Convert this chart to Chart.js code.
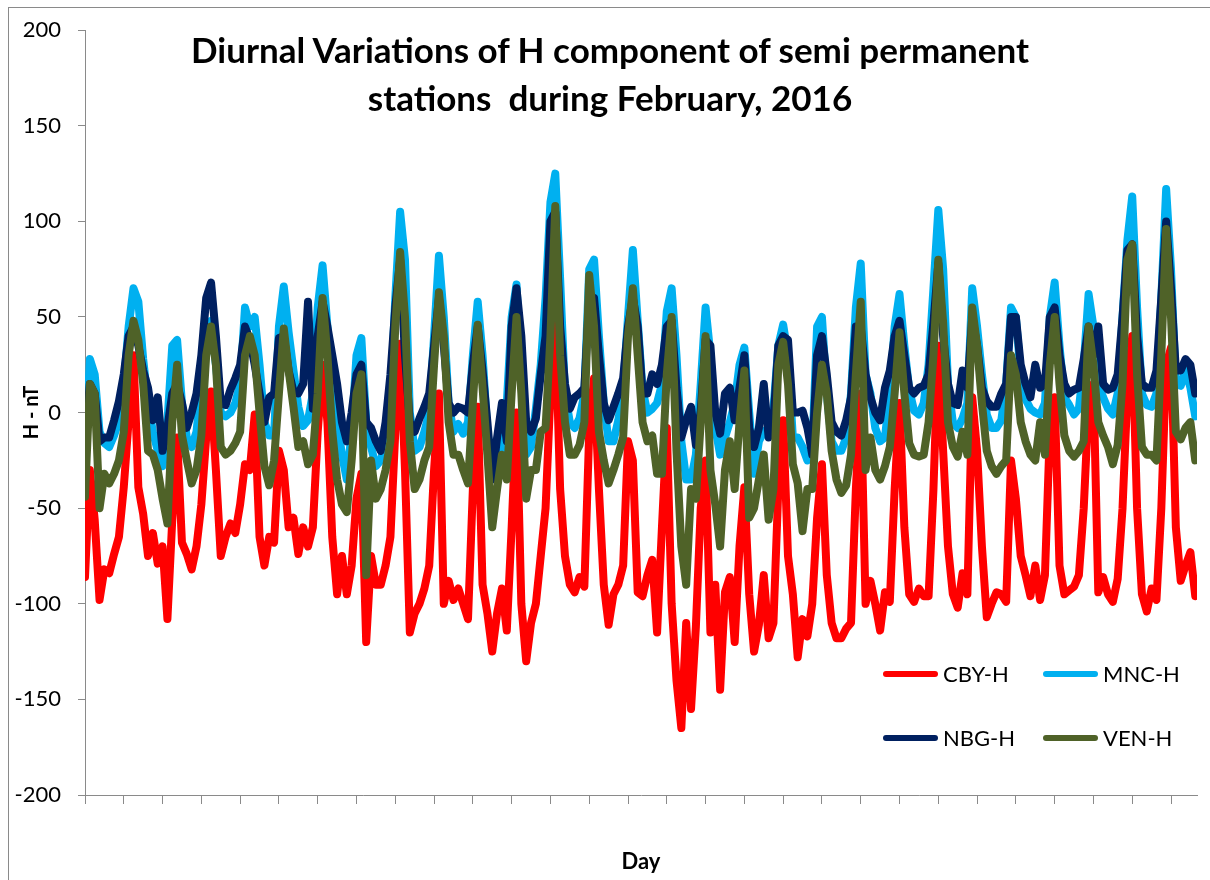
<!DOCTYPE html>
<html>
<head>
<meta charset="utf-8">
<title>Diurnal Variations of H component - February 2016</title>
<script src="https://cdn.jsdelivr.net/npm/chart.js@4.4.1/dist/chart.umd.min.js"></script>
<style>
  html, body { margin: 0; padding: 0; background: #fff; }
  #wrap { position: relative; width: 1210px; height: 880px; overflow: hidden; font-family: Lato, "Open Sans", sans-serif; color: #000; }
  #chart { position: absolute; left: 0; top: 0; }
  #frame { position: absolute; left: 8px; top: 7px; width: 1400px; height: 1000px; border-left: 1px solid #8a8a8a; border-top: 1px solid #8a8a8a; }
  #title { position: absolute; left: 0; top: 25px; width: 1220px; text-align: center; font-weight: bold; font-size: 35px; line-height: 48px; }
  .swatch { position: absolute; height: 6px; border-radius: 3px; }
  .legtext { position: absolute; font-size: 22px; line-height: 26px; }
</style>
</head>
<body>
<div id="wrap">
  <div id="frame"></div>
  <canvas id="chart" width="1210" height="880"></canvas>
  <div id="title">Diurnal Variations of H component of semi permanent<br>stations&nbsp; during February, 2016</div>
  <div id="legend"></div>
</div>
<script>
// readings taken every 3 hours (8 per day), values in nT
const SAMPLES_PER_DAY = 8;
const seriesNames = ["CBY-H", "MNC-H", "NBG-H", "VEN-H"];
const yTicks = [-200, -150, -100, -50, 0, 50, 100, 150, 200];

const cbyH = [
  -86, -30, -56, -98, -82, -84, -74, -65,
  -39, -4, 30, -39, -53, -75, -63, -79,
  -70, -108, -56, -13, -68, -74, -82, -70,
  -48, -13, 11, -30, -75, -65, -58, -63,
  -48, -27, -30, -1, -65, -80, -65, -68,
  -20, -30, -60, -55, -74, -60, -70, -60,
  -10, 25, -5, -65, -95, -75, -95, -80,
  -45, -32, -120, -75, -90, -90, -80, -65,
  -10, 36, -30, -115, -105, -100, -92, -80,
  -30, 10, -100, -88, -98, -92, -100, -108,
  -40, 3, -90, -105, -125, -105, -92, -114,
  -60, 0, -100, -130, -110, -100, -75, -50,
  10, 48, -40, -75, -90, -94, -86, -91,
  -10, 18, -40, -90, -111, -95, -90, -80,
  -15, -25, -94, -96, -85, -77, -115, -60,
  -8, -100, -140, -165, -110, -155, -112, -50,
  -25, -115, -90, -145, -94, -86, -120, -70,
  -39, -95, -125, -111, -85, -118, -110, -40,
  -4, -75, -95, -128, -108, -117, -100, -55,
  -27, -85, -110, -118, -118, -113, -110, -40,
  10, -100, -88, -100, -114, -94, -99, -40,
  5, -60, -95, -99, -92, -96, -96, -40,
  35, -20, -70, -95, -102, -84, -95, 8,
  -20, -70, -107, -100, -94, -95, -99, -25,
  -45, -75, -85, -96, -80, -98, -85, -10,
  8, -80, -95, -93, -91, -85, -50, 5,
  15, -94, -86, -95, -99, -87, -50, 10,
  40, -50, -95, -104, -92, -98, -50, 25,
  34, -60, -88, -80, -73, -96
];

const mncH = [
  -25, 28, 20, -10, -16, -18, -12, -4,
  15, 45, 65, 58, 28, 5, -10, -20,
  -28, -5, 35, 38, 5, -13, -18, -10,
  15, 40, 48, 25, 0, -2, 0, 5,
  15, 55, 45, 50, 25, -5, -12, -12,
  45, 66, 42, 22, 3, -7, -4, 10,
  55, 77, 45, 15, -5, -22, -35, -10,
  30, 39, -5, -18, -28, -25, -15, 5,
  60, 105, 80, 0, -20, -18, -10, 0,
  40, 82, 50, 5, -10, -6, -11, -5,
  30, 58, 30, -10, -30, -22, -22, 5,
  50, 67, 20, -22, -18, 2, 25, 60,
  110, 125, 70, 10, -5, -8, -3, 10,
  75, 80, 40, 5, -15, -15, -4, 13,
  50, 85, 48, 12, 0, 2, 5, 15,
  53, 65, 30, -15, -35, -35, -22, 15,
  55, 30, -8, -22, -13, -5, 5, 25,
  34, 0, -32, -15, -10, -8, 2, 35,
  46, 30, -13, -13, -18, -25, -20, 45,
  50, 10, -15, -20, -20, -13, 10, 55,
  78, 20, 10, -8, -15, -13, 10, 45,
  62, 35, 12, 1, -1, 5, 25, 65,
  106, 75, 15, -5, -8, -3, 5, 65,
  45, 20, -1, -8, -8, -4, 15, 55,
  50, 20, 7, 2, 0, -1, 5, 50,
  68, 35, 8, 4, -1, 2, 25, 62,
  45, 15, 8, 2, -1, 10, 50, 90,
  113, 55, 10, 4, 3, 10, 60, 117,
  75, 15, 14, 22, 13, -2
];

const nbgH = [
  -13, 15, 10, -15, -13, -13, -4, 6,
  20, 40, 45, 35, 22, 13, -4, 8,
  -20, -8, 10, 15, 5, -8, 0, 10,
  30, 60, 68, 40, 5, 4, 12, 18,
  25, 45, 38, 25, 10, -5, 8, 10,
  39, 40, 22, 11, 10, 15, 58, 2,
  40, 58, 45, 30, 15, -5, -15, 0,
  20, 25, -5, -8, -15, -20, -5, 20,
  55, 80, 30, -5, -10, -3, 3, 10,
  35, 60, 35, 5, 0, 3, 2, 0,
  25, 45, 22, -5, -35, -13, 5, -15,
  45, 65, 40, -5, -10, -3, 20, 40,
  100, 105, 45, 15, 2, 8, 10, 13,
  60, 60, 30, 5, -4, 3, 10, 18,
  45, 60, 45, 10, 10, 20, 15, 25,
  45, 48, 13, -13, -4, 3, -17, 1,
  38, 35, 0, -11, 10, 13, -4, 13,
  30, -8, -18, -8, 15, -13, -4, 35,
  40, 38, 0, 0, 1, -8, -22, 30,
  40, 20, -5, -10, -12, -4, 8, 45,
  45, 20, 8, 0, -4, 13, 22, 40,
  48, 30, 13, 10, 13, 14, 20, 47,
  78, 40, 15, 5, 4, 22, 13, 50,
  35, 13, 6, 3, 3, 10, 15, 50,
  50, 25, 15, 8, 25, 13, 15, 50,
  55, 30, 15, 10, 12, 13, 28, 45,
  30, 45, 15, 12, 13, 20, 50, 85,
  88, 40, 15, 13, 13, 22, 60, 100,
  65, 22, 22, 28, 25, 10
];

const venH = [
  -44, 15, 10, -50, -32, -37, -32, -25,
  -10, 30, 48, 38, 15, -20, -22, -30,
  -45, -58, -5, 25, -12, -25, -37, -30,
  -12, 30, 45, 25, -18, -22, -20, -16,
  -10, 30, 40, 30, 0, -28, -38, -25,
  10, 44, 22, 3, -18, -15, -27, -22,
  10, 60, 30, -10, -35, -48, -52, -25,
  10, 20, -85, -25, -45, -40, -30, -15,
  45, 84, 50, -15, -40, -35, -25, -18,
  25, 63, 40, -5, -22, -22, -30, -37,
  5, 46, 13, -22, -60, -40, -22, -35,
  10, 50, 10, -45, -30, -30, -10, -8,
  40, 108, 30, -5, -22, -22, -17, -5,
  72, 45, -10, -25, -37, -30, -22, -13,
  40, 65, 30, -5, -15, -12, -32, -32,
  20, 50, -20, -70, -90, -40, -45, -5,
  40, -30, -48, -70, -30, -15, -40, -5,
  22, -55, -50, -35, -22, -56, -40, 25,
  37, 15, -27, -37, -62, -40, -40, 0,
  25, 10, -20, -35, -42, -38, -22, 20,
  58, -30, -13, -30, -35, -28, -18, 10,
  42, 10, -16, -22, -23, -22, -5, 30,
  80, 47, -5, -18, -23, -10, -22, 55,
  35, 5, -20, -28, -32, -28, -25, 30,
  20, -5, -15, -22, -25, -5, -22, 25,
  50, 15, -12, -20, -23, -20, -15, 45,
  25, -5, -12, -18, -27, -17, 15, 80,
  88, 20, -18, -22, -22, -25, 30, 96,
  50, -10, -14, -8, -5, -25
];

const seriesColors = ["#ff0000", "#00b0f0", "#002060", "#4f6228"];
const AXIS_GREY = "#8a8a8a";

function toPoints(values) {
  return values.map(function (v, i) { return { x: i / SAMPLES_PER_DAY, y: v }; });
}

var allValues = [cbyH, mncH, nbgH, venH];
var datasets = seriesNames.map(function (name, k) {
  return {
    label: name,
    data: toPoints(allValues[k]),
    borderColor: seriesColors[k],
    backgroundColor: seriesColors[k],
    // excel draws later series on top: VEN over NBG over MNC over CBY
    order: seriesNames.length - 1 - k
  };
});

// legend laid out 2x2 inside the plot, as in the original
var legendPos = [[883, 674], [1043, 674], [883, 738], [1043, 738]];
var legend = document.getElementById("legend");
seriesNames.forEach(function (name, k) {
  var sw = document.createElement("div");
  sw.className = "swatch";
  sw.style.left = legendPos[k][0] + "px";
  sw.style.top = (legendPos[k][1] - 3) + "px";
  sw.style.width = "55px";
  sw.style.background = seriesColors[k];
  legend.appendChild(sw);
  var tx = document.createElement("div");
  tx.className = "legtext";
  tx.style.left = (legendPos[k][0] + 60) + "px";
  tx.style.top = (legendPos[k][1] - 13) + "px";
  tx.textContent = name;
  legend.appendChild(tx);
});

var ctx = document.getElementById("chart").getContext("2d");
new Chart(ctx, {
  type: "line",
  data: { datasets: datasets },
  options: {
    responsive: false,
    animation: false,
    devicePixelRatio: 1,
    layout: { padding: { top: 23, right: 13, left: 0, bottom: 0 } },
    plugins: { legend: { display: false }, tooltip: { enabled: false } },
    elements: {
      point: { radius: 0 },
      line: { borderWidth: 8, tension: 0, borderJoinStyle: "round", borderCapStyle: "round" }
    },
    scales: {
      x: {
        type: "linear",
        min: 0,
        max: 28.67,
        afterFit: function (s) { s.height = 85; },
        ticks: { stepSize: 1, includeBounds: false, autoSkip: false, callback: function () { return ""; } },
        grid: { drawOnChartArea: false, tickLength: 9, color: AXIS_GREY },
        border: { color: AXIS_GREY, width: 1 },
        title: {
          display: true, text: "Day", color: "#000",
          font: { family: "Lato", size: 22, weight: "bold" },
          padding: { top: 0, bottom: 5 }
        }
      },
      y: {
        min: -200,
        max: 200,
        afterFit: function (s) { s.width = 85; },
        afterBuildTicks: function (s) { s.ticks = yTicks.map(function (v) { return { value: v }; }); },
        ticks: { padding: 17, color: "#000", font: { family: "Lato", size: 22 } },
        grid: { drawOnChartArea: false, tickLength: 7, color: AXIS_GREY },
        border: { color: AXIS_GREY, width: 1 },
        title: {
          display: true, text: "H - nT", color: "#000",
          font: { family: "Lato", size: 20, weight: "bold" },
          padding: { top: 20, bottom: 0 }
        }
      }
    }
  }
});
</script>
</body>
</html>
